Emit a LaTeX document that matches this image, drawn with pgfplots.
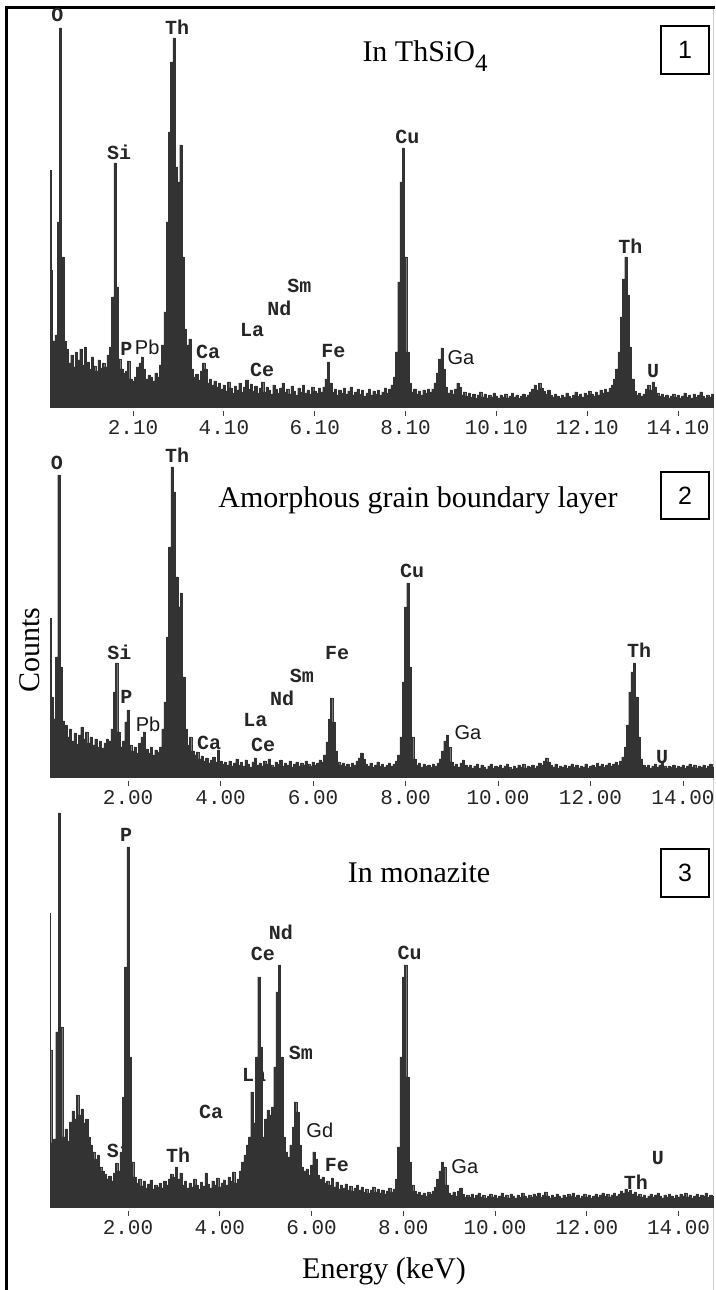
\documentclass[border=0pt]{standalone}
\usepackage{fontspec}
\setmainfont{Liberation Serif}
\newfontfamily\monofont{Liberation Mono}
\newfontfamily\arialfont{Liberation Sans}
\usepackage{pgfplots}
\usepackage{pgfplotstable}
\pgfplotsset{compat=1.18}

% EDS spectra: energy (keV) and counts above background line
\pgfplotstableread[row sep=\\]{
E c\\
0.27 237\\ 0.30 137\\ 0.35 66\\ 0.40 72\\ 0.45 185\\ 0.50 379\\ 0.55 150\\ 0.60 66\\ 0.65 58\\ 0.70 44\\
0.75 52\\ 0.80 40\\ 0.85 55\\ 0.90 47\\ 0.95 58\\ 1.00 42\\ 1.05 60\\ 1.10 45\\ 1.15 38\\ 1.20 50\\
1.25 41\\ 1.30 36\\ 1.35 47\\ 1.40 39\\ 1.45 44\\ 1.50 40\\ 1.55 52\\ 1.60 60\\ 1.65 110\\ 1.70 244\\
1.75 120\\ 1.80 48\\ 1.85 38\\ 1.90 34\\ 1.95 36\\ 2.00 46\\ 2.05 28\\ 2.10 26\\ 2.15 30\\ 2.20 40\\
2.25 44\\ 2.30 50\\ 2.35 38\\ 2.40 28\\ 2.45 32\\ 2.50 30\\ 2.55 26\\ 2.60 34\\ 2.65 30\\ 2.70 42\\
2.75 62\\ 2.80 95\\ 2.85 185\\ 2.90 275\\ 2.95 345\\ 3.00 369\\ 3.05 240\\ 3.10 225\\ 3.15 262\\ 3.20 150\\
3.25 78\\ 3.30 62\\ 3.35 68\\ 3.40 38\\ 3.45 30\\ 3.50 33\\ 3.55 27\\ 3.60 36\\ 3.65 44\\ 3.70 38\\
3.75 24\\ 3.80 28\\ 3.85 22\\ 3.90 26\\ 3.95 20\\ 4.00 24\\ 4.05 18\\ 4.10 22\\ 4.15 16\\ 4.20 25\\
4.25 19\\ 4.30 14\\ 4.35 21\\ 4.40 17\\ 4.45 24\\ 4.50 15\\ 4.55 20\\ 4.60 27\\ 4.65 18\\ 4.70 23\\
4.75 16\\ 4.80 21\\ 4.85 14\\ 4.90 19\\ 4.95 25\\ 5.00 15\\ 5.05 20\\ 5.10 17\\ 5.15 13\\ 5.20 22\\
5.25 18\\ 5.30 14\\ 5.35 19\\ 5.40 24\\ 5.45 15\\ 5.50 18\\ 5.55 13\\ 5.60 21\\ 5.65 16\\ 5.70 12\\
5.75 19\\ 5.80 15\\ 5.85 22\\ 5.90 14\\ 5.95 17\\ 6.00 13\\ 6.05 20\\ 6.10 16\\ 6.15 14\\ 6.20 19\\
6.25 15\\ 6.30 20\\ 6.35 28\\ 6.40 45\\ 6.45 24\\ 6.50 15\\ 6.55 18\\ 6.60 12\\ 6.65 17\\ 6.70 14\\
6.75 19\\ 6.80 13\\ 6.85 16\\ 6.90 20\\ 6.95 12\\ 7.00 15\\ 7.05 18\\ 7.10 13\\ 7.15 17\\ 7.20 11\\
7.25 14\\ 7.30 18\\ 7.35 12\\ 7.40 16\\ 7.45 13\\ 7.50 17\\ 7.55 12\\ 7.60 15\\ 7.65 19\\ 7.70 14\\
7.75 18\\ 7.80 22\\ 7.85 30\\ 7.90 55\\ 7.95 125\\ 8.00 225\\ 8.05 259\\ 8.10 150\\ 8.15 55\\ 8.20 24\\
8.25 15\\ 8.30 18\\ 8.35 13\\ 8.40 16\\ 8.45 12\\ 8.50 17\\ 8.55 14\\ 8.60 18\\ 8.65 15\\ 8.70 18\\
8.75 24\\ 8.80 34\\ 8.85 48\\ 8.90 59\\ 8.95 38\\ 9.00 20\\ 9.05 14\\ 9.10 17\\ 9.15 13\\ 9.20 18\\
9.25 24\\ 9.30 20\\ 9.35 12\\ 9.40 15\\ 9.45 11\\ 9.50 14\\ 9.55 10\\ 9.60 13\\ 9.65 9\\ 9.70 12\\
9.75 15\\ 9.80 10\\ 9.85 13\\ 9.90 9\\ 9.95 12\\ 10.00 10\\ 10.05 14\\ 10.10 11\\ 10.15 9\\ 10.20 12\\
10.25 10\\ 10.30 13\\ 10.35 9\\ 10.40 11\\ 10.45 14\\ 10.50 10\\ 10.55 12\\ 10.60 9\\ 10.65 11\\ 10.70 13\\
10.75 10\\ 10.80 12\\ 10.85 15\\ 10.90 18\\ 10.95 22\\ 11.00 17\\ 11.05 24\\ 11.10 19\\ 11.15 16\\ 11.20 13\\
11.25 17\\ 11.30 12\\ 11.35 10\\ 11.40 13\\ 11.45 11\\ 11.50 9\\ 11.55 12\\ 11.60 10\\ 11.65 14\\ 11.70 11\\
11.75 9\\ 11.80 12\\ 11.85 15\\ 11.90 11\\ 11.95 13\\ 12.00 10\\ 12.05 14\\ 12.10 12\\ 12.15 16\\ 12.20 13\\
12.25 11\\ 12.30 15\\ 12.35 12\\ 12.40 17\\ 12.45 14\\ 12.50 18\\ 12.55 15\\ 12.60 19\\ 12.65 22\\ 12.70 28\\
12.75 38\\ 12.80 55\\ 12.85 90\\ 12.90 128\\ 12.95 150\\ 13.00 112\\ 13.05 60\\ 13.10 28\\ 13.15 16\\ 13.20 12\\
13.25 14\\ 13.30 11\\ 13.35 13\\ 13.40 18\\ 13.45 22\\ 13.50 17\\ 13.55 25\\ 13.60 20\\ 13.65 14\\ 13.70 11\\
13.75 13\\ 13.80 10\\ 13.85 12\\ 13.90 9\\ 13.95 11\\ 14.00 13\\ 14.05 10\\ 14.10 12\\ 14.15 9\\ 14.20 11\\
14.25 14\\ 14.30 10\\ 14.35 12\\ 14.40 9\\ 14.45 13\\ 14.50 10\\ 14.55 12\\ 14.60 15\\ 14.65 11\\ 14.70 9\\
14.75 12\\ 14.80 10\\ 14.87 13\\
}\specThSiO

\pgfplotstableread[row sep=\\]{
E c\\
0.31 159\\ 0.35 80\\ 0.40 58\\ 0.45 120\\ 0.50 302\\ 0.55 110\\ 0.60 56\\ 0.65 52\\ 0.70 40\\ 0.75 48\\
0.80 36\\ 0.85 44\\ 0.90 33\\ 0.95 42\\ 1.00 50\\ 1.05 38\\ 1.10 45\\ 1.15 34\\ 1.20 40\\ 1.25 32\\
1.30 38\\ 1.35 30\\ 1.40 36\\ 1.45 29\\ 1.50 34\\ 1.55 38\\ 1.60 36\\ 1.65 48\\ 1.70 85\\ 1.75 114\\
1.80 45\\ 1.85 30\\ 1.90 36\\ 1.95 55\\ 2.00 67\\ 2.05 32\\ 2.10 26\\ 2.15 30\\ 2.20 24\\ 2.25 34\\
2.30 40\\ 2.35 45\\ 2.40 28\\ 2.45 24\\ 2.50 30\\ 2.55 22\\ 2.60 27\\ 2.65 25\\ 2.70 30\\ 2.75 48\\
2.80 75\\ 2.85 140\\ 2.90 230\\ 2.95 310\\ 3.00 285\\ 3.05 200\\ 3.10 170\\ 3.15 184\\ 3.20 100\\ 3.25 48\\
3.30 32\\ 3.35 40\\ 3.40 26\\ 3.45 22\\ 3.50 25\\ 3.55 18\\ 3.60 21\\ 3.65 16\\ 3.70 19\\ 3.75 14\\
3.80 17\\ 3.85 20\\ 3.90 15\\ 3.95 27\\ 4.00 16\\ 4.05 13\\ 4.10 15\\ 4.15 12\\ 4.20 16\\ 4.25 11\\
4.30 14\\ 4.35 18\\ 4.40 12\\ 4.45 15\\ 4.50 11\\ 4.55 17\\ 4.60 13\\ 4.65 10\\ 4.70 15\\ 4.75 19\\
4.80 12\\ 4.85 14\\ 4.90 11\\ 4.95 16\\ 5.00 13\\ 5.05 18\\ 5.10 12\\ 5.15 10\\ 5.20 15\\ 5.25 13\\
5.30 17\\ 5.35 11\\ 5.40 14\\ 5.45 12\\ 5.50 16\\ 5.55 10\\ 5.60 13\\ 5.65 15\\ 5.70 11\\ 5.75 14\\
5.80 12\\ 5.85 16\\ 5.90 13\\ 5.95 11\\ 6.00 15\\ 6.05 12\\ 6.10 14\\ 6.15 17\\ 6.20 15\\ 6.25 22\\
6.30 35\\ 6.35 58\\ 6.40 79\\ 6.45 55\\ 6.50 26\\ 6.55 15\\ 6.60 12\\ 6.65 14\\ 6.70 11\\ 6.75 13\\
6.80 10\\ 6.85 14\\ 6.90 12\\ 6.95 16\\ 7.00 19\\ 7.05 24\\ 7.10 18\\ 7.15 13\\ 7.20 11\\ 7.25 14\\
7.30 10\\ 7.35 12\\ 7.40 15\\ 7.45 11\\ 7.50 13\\ 7.55 10\\ 7.60 12\\ 7.65 14\\ 7.70 11\\ 7.75 13\\
7.80 16\\ 7.85 22\\ 7.90 40\\ 7.95 95\\ 8.00 170\\ 8.05 194\\ 8.10 110\\ 8.15 40\\ 8.20 18\\ 8.25 12\\
8.30 14\\ 8.35 10\\ 8.40 13\\ 8.45 11\\ 8.50 12\\ 8.55 10\\ 8.60 13\\ 8.65 11\\ 8.70 14\\ 8.75 18\\
8.80 26\\ 8.85 36\\ 8.90 42\\ 8.95 30\\ 9.00 15\\ 9.05 11\\ 9.10 13\\ 9.15 10\\ 9.20 14\\ 9.25 17\\
9.30 12\\ 9.35 10\\ 9.40 12\\ 9.45 9\\ 9.50 11\\ 9.55 13\\ 9.60 9\\ 9.65 12\\ 9.70 10\\ 9.75 8\\
9.80 11\\ 9.85 13\\ 9.90 9\\ 9.95 11\\ 10.00 10\\ 10.05 12\\ 10.10 9\\ 10.15 11\\ 10.20 13\\ 10.25 10\\
10.30 8\\ 10.35 11\\ 10.40 9\\ 10.45 12\\ 10.50 10\\ 10.55 13\\ 10.60 9\\ 10.65 11\\ 10.70 10\\ 10.75 12\\
10.80 9\\ 10.85 11\\ 10.90 14\\ 10.95 12\\ 11.00 16\\ 11.05 19\\ 11.10 15\\ 11.15 12\\ 11.20 10\\ 11.25 13\\
11.30 9\\ 11.35 11\\ 11.40 10\\ 11.45 12\\ 11.50 9\\ 11.55 11\\ 11.60 13\\ 11.65 10\\ 11.70 12\\ 11.75 9\\
11.80 11\\ 11.85 10\\ 11.90 13\\ 11.95 9\\ 12.00 11\\ 12.05 12\\ 12.10 10\\ 12.15 14\\ 12.20 11\\ 12.25 13\\
12.30 10\\ 12.35 12\\ 12.40 14\\ 12.45 11\\ 12.50 13\\ 12.55 15\\ 12.60 12\\ 12.65 16\\ 12.70 20\\ 12.75 30\\
12.80 52\\ 12.85 85\\ 12.90 105\\ 12.95 114\\ 13.00 80\\ 13.05 40\\ 13.10 18\\ 13.15 12\\ 13.20 10\\ 13.25 12\\
13.30 9\\ 13.35 11\\ 13.40 13\\ 13.45 10\\ 13.50 12\\ 13.55 14\\ 13.60 11\\ 13.65 9\\ 13.70 11\\ 13.75 10\\
13.80 12\\ 13.85 9\\ 13.90 11\\ 13.95 10\\ 14.00 12\\ 14.05 9\\ 14.10 11\\ 14.15 13\\ 14.20 10\\ 14.25 12\\
14.30 9\\ 14.35 11\\ 14.40 10\\ 14.45 12\\ 14.50 9\\ 14.55 11\\ 14.60 13\\ 14.65 10\\
}\specBoundary

\pgfplotstableread[row sep=\\]{
E c\\
0.30 294\\ 0.32 157\\ 0.35 64\\ 0.40 68\\ 0.45 175\\ 0.50 394\\ 0.55 180\\ 0.60 70\\ 0.65 78\\ 0.70 66\\
0.75 85\\ 0.80 96\\ 0.85 88\\ 0.90 112\\ 0.95 92\\ 1.00 98\\ 1.05 84\\ 1.10 88\\ 1.15 70\\ 1.20 62\\
1.25 55\\ 1.30 48\\ 1.35 52\\ 1.40 40\\ 1.45 36\\ 1.50 33\\ 1.55 28\\ 1.60 31\\ 1.65 26\\ 1.70 34\\
1.75 44\\ 1.80 36\\ 1.85 55\\ 1.90 110\\ 1.95 240\\ 2.00 360\\ 2.05 150\\ 2.10 45\\ 2.15 30\\ 2.20 24\\
2.25 28\\ 2.30 21\\ 2.35 26\\ 2.40 19\\ 2.45 23\\ 2.50 27\\ 2.55 18\\ 2.60 22\\ 2.65 20\\ 2.70 24\\
2.75 19\\ 2.80 26\\ 2.85 22\\ 2.90 28\\ 2.95 33\\ 3.00 30\\ 3.05 40\\ 3.10 28\\ 3.15 34\\ 3.20 22\\
3.25 26\\ 3.30 19\\ 3.35 24\\ 3.40 20\\ 3.45 28\\ 3.50 22\\ 3.55 18\\ 3.60 25\\ 3.65 21\\ 3.70 34\\
3.75 23\\ 3.80 19\\ 3.85 26\\ 3.90 22\\ 3.95 29\\ 4.00 20\\ 4.05 24\\ 4.10 27\\ 4.15 22\\ 4.20 30\\
4.25 26\\ 4.30 35\\ 4.35 24\\ 4.40 28\\ 4.45 36\\ 4.50 45\\ 4.55 52\\ 4.60 62\\ 4.65 70\\ 4.70 115\\
4.75 84\\ 4.80 150\\ 4.85 230\\ 4.90 160\\ 4.95 70\\ 5.00 88\\ 5.05 97\\ 5.10 92\\ 5.15 100\\ 5.20 140\\
5.25 215\\ 5.30 242\\ 5.35 150\\ 5.40 70\\ 5.45 55\\ 5.50 50\\ 5.55 62\\ 5.60 80\\ 5.65 105\\ 5.70 95\\
5.75 62\\ 5.80 40\\ 5.85 36\\ 5.90 38\\ 5.95 32\\ 6.00 42\\ 6.05 55\\ 6.10 48\\ 6.15 32\\ 6.20 28\\
6.25 30\\ 6.30 24\\ 6.35 26\\ 6.40 22\\ 6.45 29\\ 6.50 20\\ 6.55 25\\ 6.60 18\\ 6.65 22\\ 6.70 19\\
6.75 23\\ 6.80 17\\ 6.85 21\\ 6.90 16\\ 6.95 19\\ 7.00 22\\ 7.05 17\\ 7.10 20\\ 7.15 15\\ 7.20 18\\
7.25 14\\ 7.30 17\\ 7.35 20\\ 7.40 15\\ 7.45 18\\ 7.50 14\\ 7.55 17\\ 7.60 13\\ 7.65 16\\ 7.70 19\\
7.75 15\\ 7.80 18\\ 7.85 28\\ 7.90 60\\ 7.95 150\\ 8.00 230\\ 8.05 242\\ 8.10 130\\ 8.15 45\\ 8.20 22\\
8.25 16\\ 8.30 13\\ 8.35 15\\ 8.40 12\\ 8.45 14\\ 8.50 11\\ 8.55 15\\ 8.60 13\\ 8.65 16\\ 8.70 20\\
8.75 28\\ 8.80 36\\ 8.85 45\\ 8.90 40\\ 8.95 22\\ 9.00 14\\ 9.05 12\\ 9.10 15\\ 9.15 11\\ 9.20 16\\
9.25 19\\ 9.30 13\\ 9.35 10\\ 9.40 12\\ 9.45 10\\ 9.50 13\\ 9.55 9\\ 9.60 12\\ 9.65 14\\ 9.70 10\\
9.75 12\\ 9.80 9\\ 9.85 11\\ 9.90 13\\ 9.95 10\\ 10.00 12\\ 10.05 9\\ 10.10 11\\ 10.15 14\\ 10.20 10\\
10.25 12\\ 10.30 9\\ 10.35 13\\ 10.40 11\\ 10.45 9\\ 10.50 12\\ 10.55 10\\ 10.60 14\\ 10.65 11\\ 10.70 9\\
10.75 12\\ 10.80 10\\ 10.85 13\\ 10.90 11\\ 10.95 14\\ 11.00 10\\ 11.05 12\\ 11.10 15\\ 11.15 11\\ 11.20 9\\
11.25 12\\ 11.30 10\\ 11.35 13\\ 11.40 11\\ 11.45 9\\ 11.50 12\\ 11.55 10\\ 11.60 13\\ 11.65 11\\ 11.70 14\\
11.75 10\\ 11.80 12\\ 11.85 9\\ 11.90 11\\ 11.95 13\\ 12.00 10\\ 12.05 12\\ 12.10 9\\ 12.15 11\\ 12.20 13\\
12.25 10\\ 12.30 12\\ 12.35 14\\ 12.40 11\\ 12.45 13\\ 12.50 10\\ 12.55 12\\ 12.60 14\\ 12.65 11\\ 12.70 13\\
12.75 16\\ 12.80 14\\ 12.85 18\\ 12.90 15\\ 12.95 17\\ 13.00 13\\ 13.05 15\\ 13.10 11\\ 13.15 13\\ 13.20 10\\
13.25 12\\ 13.30 9\\ 13.35 11\\ 13.40 13\\ 13.45 10\\ 13.50 12\\ 13.55 14\\ 13.60 11\\ 13.65 9\\ 13.70 12\\
13.75 10\\ 13.80 13\\ 13.85 11\\ 13.90 9\\ 13.95 12\\ 14.00 10\\ 14.05 13\\ 14.10 11\\ 14.15 14\\ 14.20 10\\
14.25 12\\ 14.30 9\\ 14.35 11\\ 14.40 13\\ 14.45 10\\ 14.50 12\\ 14.55 11\\ 14.60 14\\ 14.65 10\\ 14.70 12\\
14.75 11\\
}\specMonazite

\pgfplotsset{
  eds/.style={
    scale only axis, width=663pt, clip=false,
    axis x line=bottom, axis y line=none,
    x axis line style={-, draw=gray!60, double=white, double distance=1.1pt, line width=0.6pt},
    ymin=-3,
    tick align=outside, major tick length=6pt,
    xtick style={black!75, line width=0.9pt},
    xticklabel style={font=\fontsize{21}{21}\selectfont\monofont, text=black!85, yshift=-0.5pt},
    ytick=\empty,
  },
  spectrum/.style={const plot mark mid, fill=black!80, draw=black!80, line width=0.2pt},
}
\tikzset{
  el/.style={font=\fontsize{20}{20}\selectfont\monofont\bfseries, text=black!85, inner sep=0pt},
  ar/.style={font=\fontsize{20}{20}\selectfont\arialfont, text=black!90, inner sep=0pt},
  ttl/.style={anchor=base, font=\fontsize{30}{30}\selectfont, inner sep=0pt},
}

\begin{document}
\begin{tikzpicture}
\path[use as bounding box] (0pt,0pt) rectangle (715pt,1290pt);
% outer frame
\draw[line width=3pt] (6.5pt,0pt) -- (6.5pt,1282.5pt) -- (715pt,1282.5pt);
\draw[gray!40, line width=1.5pt] (713.5pt,0pt) -- (713.5pt,1281pt);

% ---- 1: In ThSiO4
\begin{axis}[eds, at={(50pt,880pt)}, anchor=south west, height=400pt,
  xmin=0.27, xmax=14.87, ymax=397,
  xtick={2.1,4.1,6.1,8.1,10.1,12.1,14.1},
  xticklabels={2.10,4.10,6.10,8.10,10.10,12.10,14.10}]
\node[el] at (axis cs:0.43,392) {O};
\node[el] at (axis cs:3.07,380) {Th};
\node[el] at (axis cs:1.79,255) {Si};
\node[el] at (axis cs:1.95,58) {P};
\node[ar] at (axis cs:2.41,60) {Pb};
\node[el] at (axis cs:3.75,55) {Ca};
\node[el] at (axis cs:4.72,77) {La};
\node[el] at (axis cs:5.32,99) {Nd};
\node[el] at (axis cs:5.76,121) {Sm};
\node[el] at (axis cs:4.94,37) {Ce};
\node[el] at (axis cs:6.51,56) {Fe};
\node[el] at (axis cs:8.14,270) {Cu};
\node[ar] at (axis cs:9.32,49) {Ga};
\node[el] at (axis cs:13.05,161) {Th};
\node[el] at (axis cs:13.55,36) {U};
\addplot[spectrum] table[x=E, y=c] {\specThSiO} \closedcycle;
\end{axis}

% ---- 2: amorphous grain boundary layer
\begin{axis}[eds, at={(50pt,510pt)}, anchor=south west, height=320pt,
  xmin=0.31, xmax=14.65, ymax=317,
  xtick={2,4,6,8,10,12,14},
  xticklabels={2.00,4.00,6.00,8.00,10.00,12.00,14.00}]
\node[el] at (axis cs:0.46,314) {O};
\node[el] at (axis cs:3.06,322) {Th};
\node[el] at (axis cs:1.81,125) {Si};
\node[el] at (axis cs:1.96,80) {P};
\node[ar] at (axis cs:2.43,53) {Pb};
\node[el] at (axis cs:3.75,34) {Ca};
\node[el] at (axis cs:4.75,57) {La};
\node[el] at (axis cs:4.92,32) {Ce};
\node[el] at (axis cs:5.33,79) {Nd};
\node[el] at (axis cs:5.76,101) {Sm};
\node[el] at (axis cs:6.52,124) {Fe};
\node[el] at (axis cs:8.14,206) {Cu};
\node[ar] at (axis cs:9.35,44) {Ga};
\node[el] at (axis cs:13.05,127) {Th};
\node[el] at (axis cs:13.55,20) {U};
\addplot[spectrum] table[x=E, y=c] {\specBoundary} \closedcycle;
\end{axis}

% ---- 3: in monazite
\begin{axis}[eds, at={(50pt,80pt)}, anchor=south west, height=403pt,
  xmin=0.30, xmax=14.75, ymax=400,
  xtick={2,4,6,8,10,12,14},
  xticklabels={2.00,4.00,6.00,8.00,10.00,12.00,14.00}]
\node[el] at (axis cs:1.96,372) {P};
\node[el] at (axis cs:5.33,275) {Nd};
\node[el] at (axis cs:4.94,253) {Ce};
\node[el] at (axis cs:5.77,154) {Sm};
\node[el] at (axis cs:4.75,132) {La};
\node[el] at (axis cs:3.81,95) {Ca};
\node[ar] at (axis cs:6.18,77) {Gd};
\node[el] at (axis cs:1.80,57) {Si};
\node[el] at (axis cs:3.09,52) {Th};
\node[el] at (axis cs:6.55,42) {Fe};
\node[el] at (axis cs:8.14,254) {Cu};
\node[ar] at (axis cs:9.34,40) {Ga};
\node[el] at (axis cs:13.07,25) {Th};
\node[el] at (axis cs:13.55,49) {U};
\addplot[spectrum] table[x=E, y=c] {\specMonazite} \closedcycle;
\end{axis}

% panel titles
\node[ttl] at (425pt,1228pt)
  {In ThSiO\raisebox{-0.32em}{\fontsize{25}{25}\selectfont 4}};
\node[ttl] at (418pt,782pt) {Amorphous grain boundary layer};
\node[ttl] at (419pt,407pt) {In monazite};

% panel numbers
\draw[line width=1.2pt] (661pt,1216pt) rectangle (709pt,1264pt);
\node[font=\fontsize{25}{25}\selectfont\arialfont] at (685pt,1240pt) {1};
\draw[line width=1.2pt] (661pt,771pt) rectangle (709pt,818pt);
\node[font=\fontsize{25}{25}\selectfont\arialfont] at (685pt,794.5pt) {2};
\draw[line width=1.2pt] (661pt,393pt) rectangle (709pt,441pt);
\node[font=\fontsize{25}{25}\selectfont\arialfont] at (685pt,417pt) {3};

% axis titles
\node[rotate=90, font=\fontsize{30}{30}\selectfont, inner sep=0pt] at (30pt,640pt) {Counts};
\node[ttl] at (384pt,12pt) {Energy (keV)};
\end{tikzpicture}
\end{document}
